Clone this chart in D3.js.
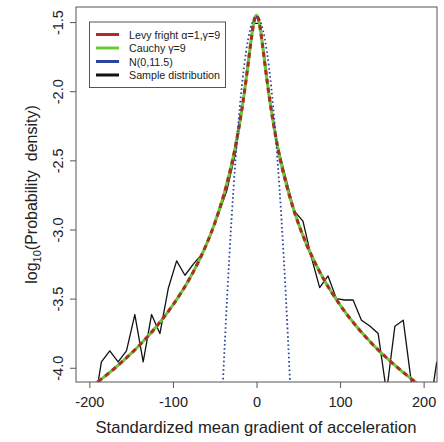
<!DOCTYPE html>
<html>
<head>
<meta charset="utf-8">
<script src="https://cdn.jsdelivr.net/npm/d3@7"></script>
<style>
  html, body { margin: 0; padding: 0; background: #fff; }
  svg { display: block; font-family: "Liberation Sans", Arial, sans-serif; }
</style>
</head>
<body>
<svg id="chart" width="444" height="442"></svg>
<script>
// ---- data ----
const xTicks = [-200, -100, 0, 100, 200];
const xTickLabels = ["-200", "-100", "0", "100", "200"];
const yTicks = [-4.0, -3.5, -3.0, -2.5, -2.0, -1.5];
const yTickLabels = ["-4.0", "-3.5", "-3.0", "-2.5", "-2.0", "-1.5"];

// Levy flight alpha=1, gamma=9 (log10 density)
const levyX = [-216, -200, -180, -160, -140, -120, -100, -80, -70, -60, -50, -40, -30, -25, -20, -15, -12, -10, -8, -6, -4, -2, 0,
               2, 4, 6, 8, 10, 12, 15, 20, 25, 30, 40, 50, 60, 70, 80, 100, 120, 140, 160, 180, 200, 216];
const levyY = [-4.213, -4.146, -4.055, -3.952, -3.837, -3.704, -3.546, -3.355, -3.240, -3.109, -2.955, -2.768, -2.535, -2.392, -2.225, -2.029, -1.895, -1.801, -1.704, -1.611, -1.530, -1.472, -1.451,
               -1.472, -1.530, -1.611, -1.704, -1.801, -1.895, -2.029, -2.225, -2.392, -2.535, -2.768, -2.955, -3.109, -3.240, -3.355, -3.546, -3.704, -3.837, -3.952, -4.055, -4.146, -4.213];

// Cauchy gamma=9 (log10 density)
const cauchyX = [-216, -200, -180, -160, -140, -120, -100, -80, -70, -60, -50, -40, -30, -25, -20, -15, -12, -10, -8, -6, -4, -2, 0,
                 2, 4, 6, 8, 10, 12, 15, 20, 25, 30, 40, 50, 60, 70, 80, 100, 120, 140, 160, 180, 200, 216];
const cauchyY = [-4.213, -4.146, -4.055, -3.952, -3.837, -3.704, -3.546, -3.355, -3.240, -3.109, -2.955, -2.768, -2.535, -2.392, -2.225, -2.029, -1.895, -1.801, -1.704, -1.611, -1.530, -1.472, -1.451,
                 -1.472, -1.530, -1.611, -1.704, -1.801, -1.895, -2.029, -2.225, -2.392, -2.535, -2.768, -2.955, -3.109, -3.240, -3.355, -3.546, -3.704, -3.837, -3.952, -4.055, -4.146, -4.213];

// N(0, 11.5) (log10 density)
const normalX = [-42, -40, -37.5, -35, -32.5, -30, -27.5, -25, -22.5, -20, -17.5, -15, -12.5, -10, -7.5, -5, -2.5, 0,
                 2.5, 5, 7.5, 10, 12.5, 15, 17.5, 20, 22.5, 25, 27.5, 30, 32.5, 35, 37.5, 40, 42];
const normalY = [-4.357, -4.087, -3.769, -3.471, -3.194, -2.938, -2.702, -2.486, -2.291, -2.117, -1.963, -1.829, -1.716, -1.624, -1.552, -1.501, -1.470, -1.460,
                 -1.470, -1.501, -1.552, -1.624, -1.716, -1.829, -1.963, -2.117, -2.291, -2.486, -2.702, -2.938, -3.194, -3.471, -3.769, -4.087, -4.357];

// Sample distribution (log10 density)
const sampleX = [-215.6, -205.6, -195.6, -185.6, -175.6, -165.6, -155.6, -145.6, -135.6, -125.6, -115.6, -105.6, -95.6, -85.6, -75.6, -65.6, -55.6, -45.6, -35.6, -25.6, -15.6, -4.5,
                 4.5, 15.6, 25.6, 35.6, 45.6, 55.6, 65.6, 75.6, 85.6, 95.6, 105.6, 115.6, 125.6, 135.6, 145.6, 155.6, 165.6, 175.6, 185.6, 195.6, 205.6, 215.6, 225.6];
const sampleY = [-4.50, -4.50, -4.33, -3.958, -3.878, -3.958, -3.878, -3.615, -3.958, -3.615, -3.753, -3.427, -3.227, -3.331, -3.25, -3.18, -3.05, -2.89, -2.72, -2.46, -2.08, -1.51,
                 -1.51, -2.04, -2.40, -2.64, -2.87, -2.94, -3.20, -3.42, -3.336, -3.50, -3.51, -3.51, -3.656, -3.698, -3.753, -4.177, -3.70, -3.656, -4.12, -4.40, -4.37, -3.96, -4.30];

const legendLabels = ["Levy fright \u03b1=1,\u03b3=9", "Cauchy \u03b3=9", "N(0,11.5)", "Sample distribution"];
const legendColors = ["#b02a2a", "#66cc33", "#2c44a0", "#111111"];

// ---- layout ----
const svg = d3.select("#chart");
const plot = { left: 76, right: 437, top: 7, bottom: 382 };
const x = d3.scaleLinear().domain([-216, 216]).range([plot.left, plot.right]);
const y = d3.scaleLinear().domain([-4.103, -1.391]).range([plot.bottom, plot.top]);

svg.append("defs").append("clipPath").attr("id", "clip")
  .append("rect")
  .attr("x", plot.left).attr("y", plot.top)
  .attr("width", plot.right - plot.left).attr("height", plot.bottom - plot.top);

const g = svg.append("g").attr("clip-path", "url(#clip)");

const pts = (xs, ys) => xs.map((v, i) => [v, ys[i]]);
const smooth = d3.line().x(d => x(d[0])).y(d => y(d[1])).curve(d3.curveMonotoneX);
const poly = d3.line().x(d => x(d[0])).y(d => y(d[1]));

// sample distribution
g.append("path").datum(pts(sampleX, sampleY))
  .attr("d", poly).attr("fill", "none")
  .attr("stroke", legendColors[3]).attr("stroke-width", 1.3).attr("stroke-linejoin", "round");

// Cauchy (green solid)
g.append("path").datum(pts(cauchyX, cauchyY))
  .attr("d", smooth).attr("fill", "none")
  .attr("stroke", legendColors[1]).attr("stroke-width", 3);

// Levy (red dashed)
g.append("path").datum(pts(levyX, levyY))
  .attr("d", smooth).attr("fill", "none")
  .attr("stroke", legendColors[0]).attr("stroke-width", 3)
  .attr("stroke-dasharray", "5,4");

// Normal (blue dotted)
g.append("path").datum(pts(normalX, normalY))
  .attr("d", smooth).attr("fill", "none")
  .attr("stroke", legendColors[2]).attr("stroke-width", 1.8)
  .attr("stroke-dasharray", "1.6,2.6");

// ---- box ----
svg.append("rect")
  .attr("x", plot.left).attr("y", plot.top)
  .attr("width", plot.right - plot.left).attr("height", plot.bottom - plot.top)
  .attr("fill", "none").attr("stroke", "#555").attr("stroke-width", 1);

// ---- axes ----
const xAxis = d3.axisBottom(x).tickValues(xTicks).tickSize(6).tickPadding(5).tickFormat((d, i) => xTickLabels[i]);
const gx = svg.append("g").attr("transform", `translate(0,${plot.bottom})`).call(xAxis);
gx.select(".domain").remove();
gx.selectAll(".tick line").attr("stroke", "#555");
gx.selectAll(".tick text").attr("font-size", "14.5px").attr("fill", "#222")
  .attr("font-family", "Liberation Sans, Arial, sans-serif").attr("dy", "0.95em");

const yAxis = d3.axisLeft(y).tickValues(yTicks).tickSize(6).tickFormat((d, i) => yTickLabels[i]);
const gy = svg.append("g").attr("transform", `translate(${plot.left},0)`).call(yAxis);
gy.select(".domain").remove();
gy.selectAll(".tick line").attr("stroke", "#555");
gy.selectAll(".tick text")
  .attr("font-size", "14.5px").attr("fill", "#222")
  .attr("font-family", "Liberation Sans, Arial, sans-serif")
  .attr("x", null).attr("dy", null)
  .attr("text-anchor", "middle")
  .attr("transform", "translate(-13,0) rotate(-90)");

// axis titles
svg.append("text")
  .attr("x", 256).attr("y", 433)
  .attr("text-anchor", "middle").attr("font-size", "16.6px").attr("fill", "#222")
  .text("Standardized mean gradient of acceleration");

const yt = svg.append("text")
  .attr("transform", `translate(37,${(plot.top + plot.bottom) / 2}) rotate(-90)`)
  .attr("text-anchor", "middle").attr("font-size", "16px").attr("fill", "#222")
  .style("white-space", "pre");
yt.append("tspan").text("log");
yt.append("tspan").attr("font-size", "11px").attr("dy", "4").text("10");
yt.append("tspan").attr("dy", "-4").text("(Probability  density)");

// ---- legend ----
const lg = svg.append("g");
lg.append("rect").attr("x", 89.5).attr("y", 22).attr("width", 136).attr("height", 65.5)
  .attr("fill", "#fff").attr("stroke", "#555").attr("stroke-width", 1);
legendLabels.forEach((lab, i) => {
  const cy = 34.5 + i * 13.5;
  lg.append("line").attr("x1", 96).attr("x2", 119).attr("y1", cy).attr("y2", cy)
    .attr("stroke", legendColors[i]).attr("stroke-width", 3);
  lg.append("text").attr("x", 129).attr("y", cy + 4).attr("font-size", "10.7px").attr("fill", "#222")
    .text(lab);
});
</script>
</body>
</html>
